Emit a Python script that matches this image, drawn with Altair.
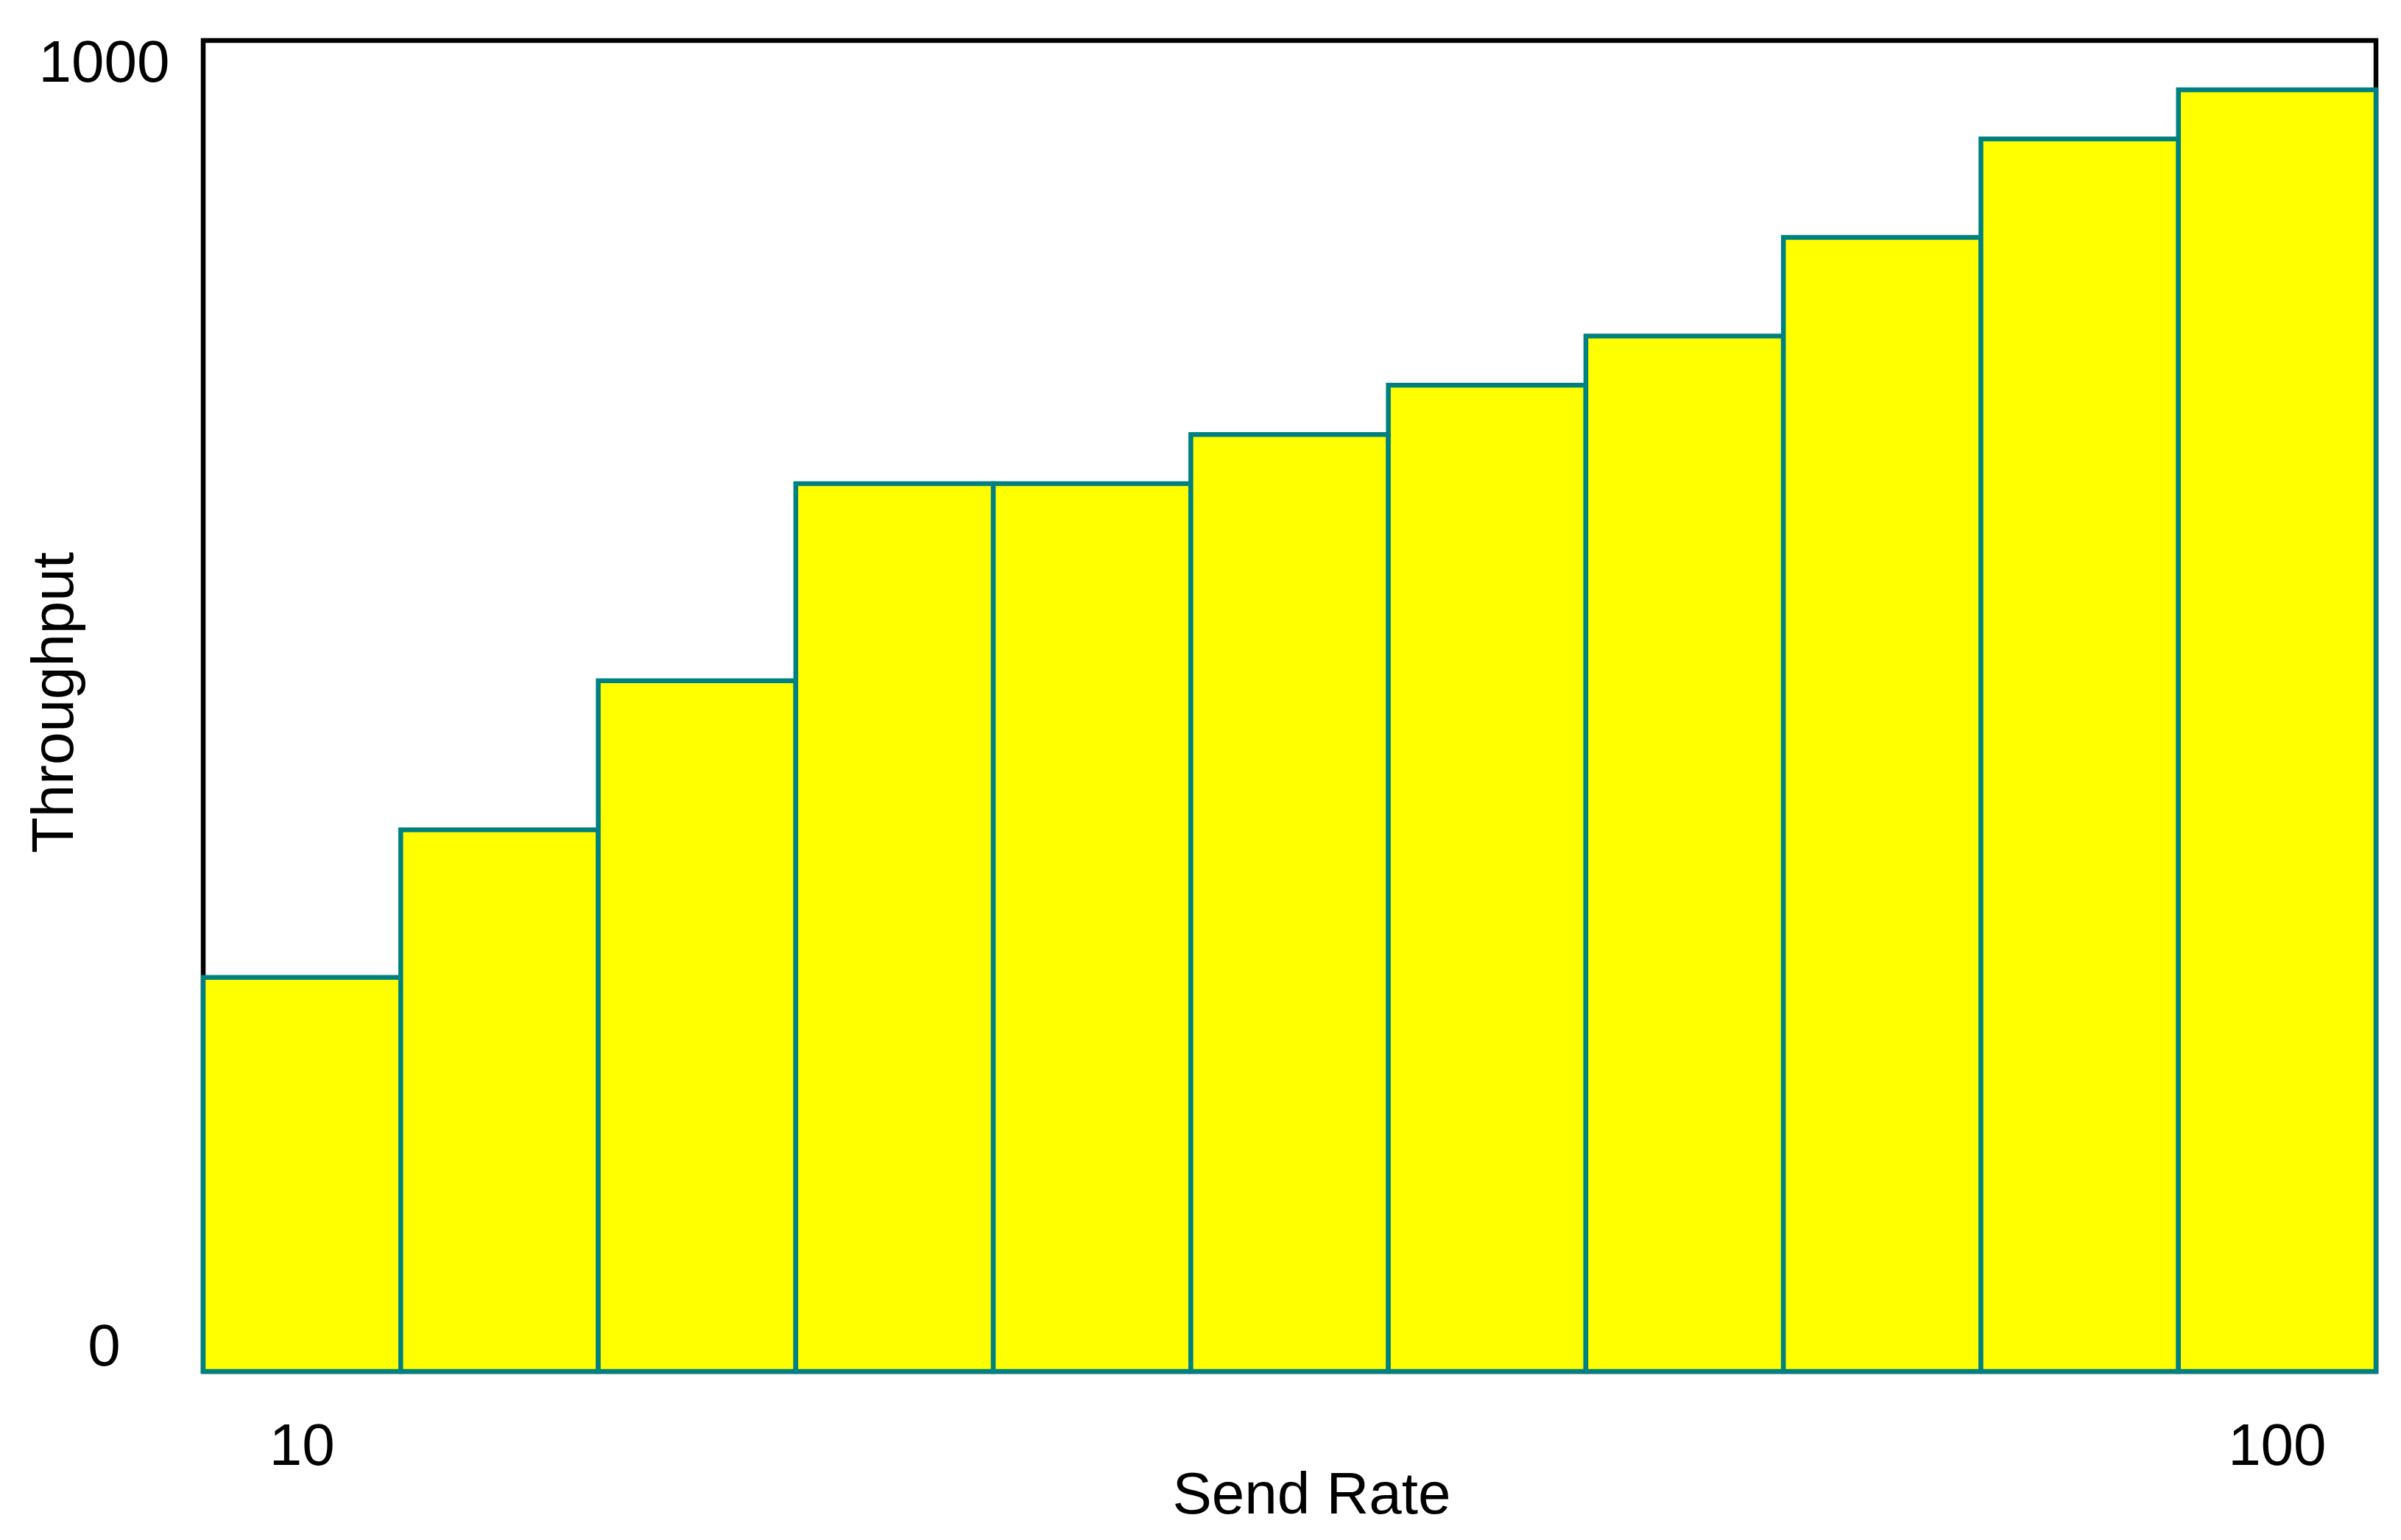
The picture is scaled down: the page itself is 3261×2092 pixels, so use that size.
import altair as alt
import pandas as pd

send_rate = [10, 19, 28, 37, 46, 55, 64, 73, 82, 91, 100]
throughput = [296, 407, 519, 667, 667, 704, 741, 778, 852, 926, 963]
x_ticks = [10, 100]
y_ticks = [0, 1000]

df = pd.DataFrame({"Send Rate": send_rate, "Throughput": throughput})

FONT = "Liberation Sans"
W, H = 2951, 1808

chart = alt.Chart(df).mark_bar(
    fill="#FFFF00", stroke="#008080", strokeWidth=6.5
).encode(
    x=alt.X(
        "Send Rate:O",
        sort=send_rate,
        scale=alt.Scale(paddingInner=0, paddingOuter=0),
        axis=alt.Axis(
            values=x_ticks, labelAngle=0, ticks=False, tickSize=0, domain=False,
            grid=False, labelPadding=63, labelFontSize=80, labelFont=FONT,
            labelColor="black", title="Send Rate", titleFontSize=80,
            titleFont=FONT, titleFontWeight="normal", titleColor="black",
            titleX=1505, titleY=192, titleBaseline="alphabetic", titleAlign="center",
        ),
    ),
    y=alt.Y(
        "Throughput:Q",
        scale=alt.Scale(domain=[0, 1000], nice=False),
        axis=alt.Axis(
            values=y_ticks, format="d", labelLimit=0, ticks=False, tickSize=0,
            domain=False, grid=False, labelFlush=True, labelFlushOffset=8,
            labelAlign="center",
            labelPadding=135, labelFontSize=80, labelFont=FONT,
            labelColor="black", title="Throughput", titleFontSize=80,
            titleFont=FONT, titleFontWeight="normal", titleColor="black",
            titleX=-178, titleY=899, titleAngle=270, titleBaseline="alphabetic",
            titleAlign="center",
        ),
    ),
).properties(
    width=W, height=H,
    autosize=alt.AutoSizeParams(type="none"),
    padding={"left": 268, "top": 47, "right": 26, "bottom": 215},
).configure(
    background="white"
).configure_view(
    stroke="black", strokeWidth=6.5
)

chart.save("out.html", embed_options={"renderer": "svg", "actions": False})
